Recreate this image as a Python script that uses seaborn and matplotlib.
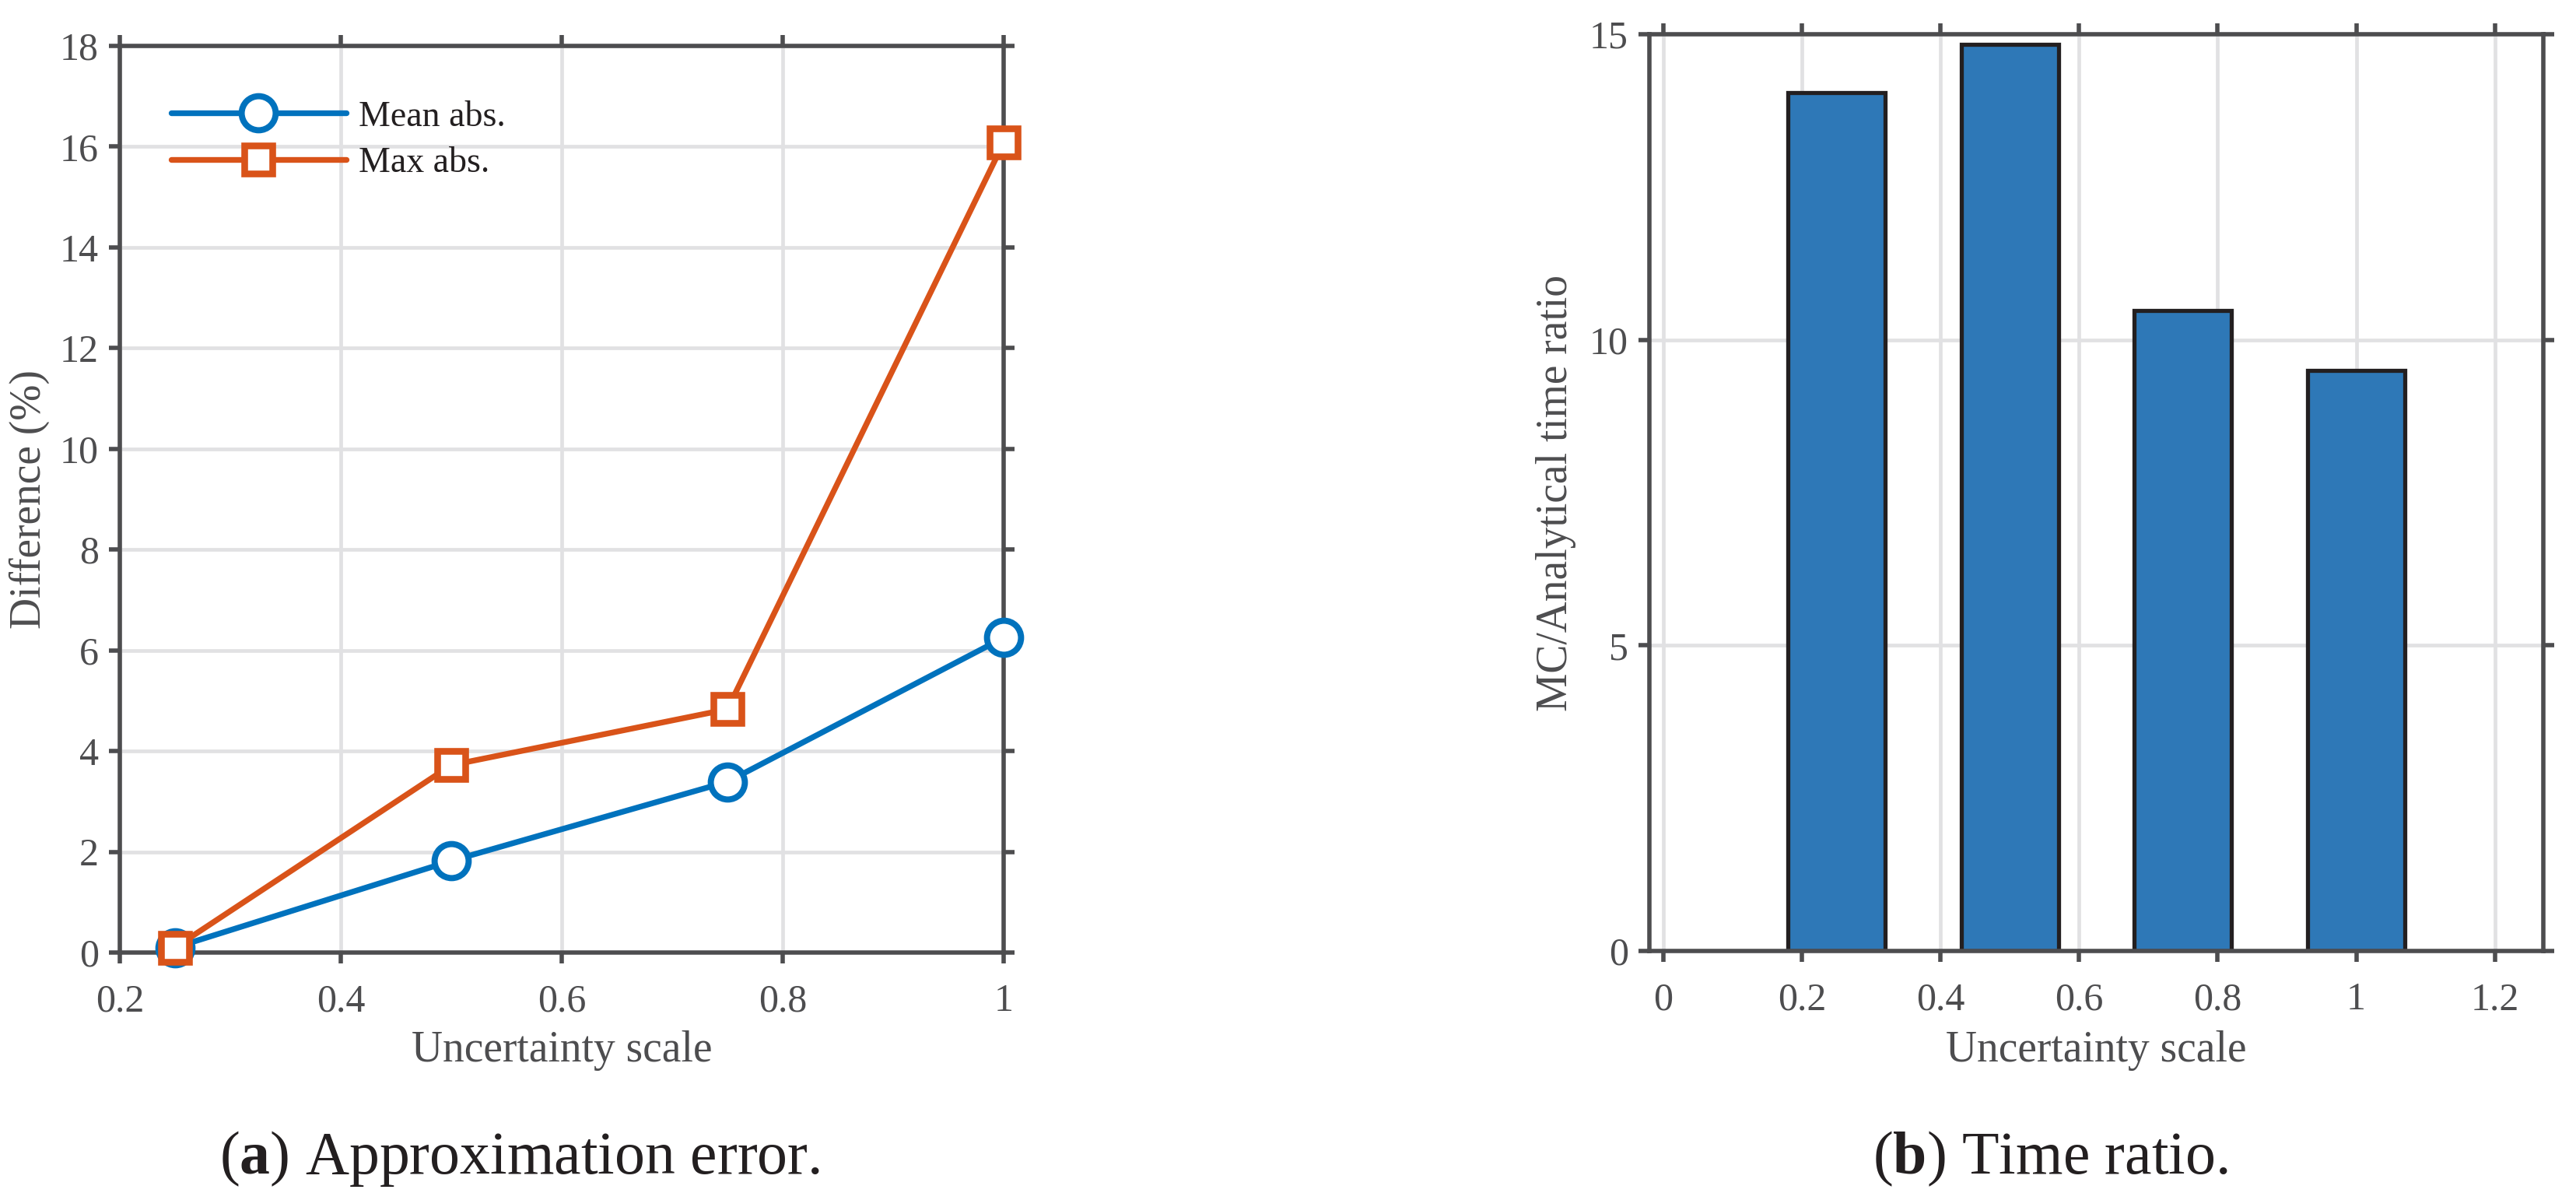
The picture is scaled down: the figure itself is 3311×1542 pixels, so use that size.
import matplotlib
matplotlib.use("Agg")
import matplotlib.pyplot as plt
import seaborn as sns
import pandas as pd
from matplotlib.ticker import FuncFormatter

# ---- data ----
scale = [0.25, 0.5, 0.75, 1.0]
mean_abs = [0.1, 1.82, 3.39, 6.25]
max_abs = [0.1, 3.72, 4.83, 16.08]
time_ratio = [14.04, 14.84, 10.48, 9.50]

left_xticks = [0.2, 0.4, 0.6, 0.8, 1.0]
left_yticks = [0, 2, 4, 6, 8, 10, 12, 14, 16, 18]
right_xticks = [0, 0.2, 0.4, 0.6, 0.8, 1.0, 1.2]
right_yticks = [0, 5, 10, 15]

# ---- style ----
sns.set_style("ticks")
plt.rcParams['font.family'] = ['Liberation Serif', 'DejaVu Serif']
plt.rcParams['mathtext.fontset'] = 'custom'
plt.rcParams['mathtext.rm'] = 'Liberation Serif'
plt.rcParams['mathtext.bf'] = 'Liberation Serif:bold'

AX_COL = '#4d4d4f'
GRID_COL = '#e1e1e3'
BLUE = '#0072BD'
ORANGE = '#D95319'
BAR_COL = '#2e78b7'
EDGE_COL = '#231f20'

fig = plt.figure(figsize=(33.11, 15.42), dpi=100)
ax1 = fig.add_axes([154/3311, (1542-1224)/1542, 1136/3311, 1165/1542])
ax2 = fig.add_axes([2120/3311, (1542-1222)/1542, 1149/3311, 1178/1542])

fmt = FuncFormatter(lambda v, p: f"{v:g}")


def style_axes(ax):
    ax.set_axisbelow(True)
    ax.grid(True, color=GRID_COL, linewidth=3.4)
    for s in ax.spines.values():
        s.set_visible(True)
        s.set_color(AX_COL)
        s.set_linewidth(4.0)
    ax.tick_params(axis='both', which='major', direction='out', length=10.1,
                   width=4.0, color=AX_COL, labelcolor=AX_COL, labelsize=36,
                   top=True, right=True, labeltop=False, labelright=False)
    ax.tick_params(axis='x', pad=18.5)
    ax.tick_params(axis='y', pad=9.4)
    ax.xaxis.set_major_formatter(fmt)
    ax.yaxis.set_major_formatter(fmt)


# ---- left: approximation error ----
df_line = pd.DataFrame({'scale': scale, 'mean': mean_abs, 'max': max_abs})
sns.lineplot(data=df_line, x='scale', y='mean', ax=ax1, color=BLUE, linewidth=5.3,
             marker='o', markersize=31.5, markerfacecolor='white',
             markeredgecolor=BLUE, markeredgewidth=5.7, label='Mean abs.',
             clip_on=False, zorder=3)
sns.lineplot(data=df_line, x='scale', y='max', ax=ax1, color=ORANGE, linewidth=5.3,
             marker='s', markersize=26.5, markerfacecolor='white',
             markeredgecolor=ORANGE, markeredgewidth=6.2, label='Max abs.',
             clip_on=False, zorder=4)
ax1.set_xlim(0.2, 1.0)
ax1.set_ylim(0, 18)
ax1.set_xticks(left_xticks)
ax1.set_yticks(left_yticks)
style_axes(ax1)
ax1.set_xlabel('Uncertainty scale', fontsize=40, color=AX_COL)
ax1.set_ylabel('Difference (%)', fontsize=40, color=AX_COL)
ax1.xaxis.set_label_coords(0.5, (1224-1324)/1165)
ax1.yaxis.set_label_coords((64-154)/1136, 0.5)
leg = ax1.legend(loc='upper left', bbox_to_anchor=((220-154)/1136, (1224-129)/1165),
                 frameon=False, fontsize=33, handlelength=4.9, handletextpad=0.35,
                 labelspacing=0.37, borderpad=0, borderaxespad=0)
for t in leg.get_texts():
    t.set_color(EDGE_COL)

# ---- right: time ratio ----
df_bar = pd.DataFrame({'scale': scale, 'ratio': time_ratio})
sns.barplot(data=df_bar, x='scale', y='ratio', ax=ax2, native_scale=True,
            width=0.56, color=BAR_COL, saturation=1, edgecolor=EDGE_COL,
            linewidth=3.8, errorbar=None)
ax2.set_xlim(-0.02, 1.27)
ax2.set_ylim(0, 15)
ax2.set_xticks(right_xticks)
ax2.set_yticks(right_yticks)
style_axes(ax2)
ax2.set_xlabel('Uncertainty scale', fontsize=40, color=AX_COL)
ax2.set_ylabel('MC/Analytical time ratio', fontsize=40, color=AX_COL)
ax2.xaxis.set_label_coords(0.5, (1222-1324)/1178)
ax2.yaxis.set_label_coords((2026-2120)/1149, 0.5)

# ---- captions ----
cap_y = (1542-1508)/1542
fig.text(668/3311, cap_y, r'($\mathbf{a}$) Approximation error.', fontsize=56,
         ha='center', va='baseline', color=EDGE_COL)
fig.text(2635/3311, cap_y, r'($\mathbf{b}$) Time ratio.', fontsize=56,
         ha='center', va='baseline', color=EDGE_COL)

fig.savefig('out.png', dpi=100)
